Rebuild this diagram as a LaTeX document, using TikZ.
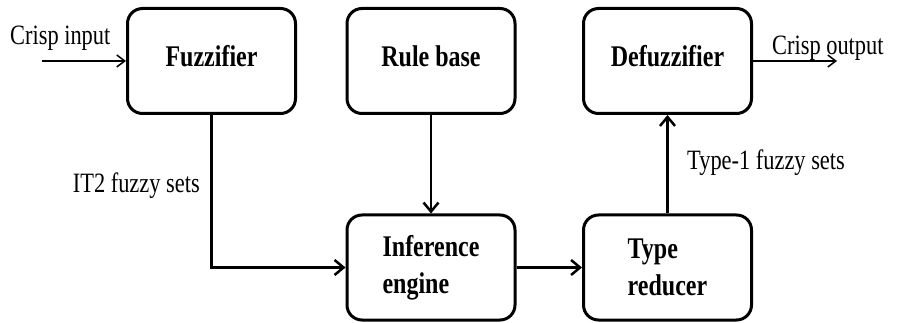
\documentclass[tikz,border=0pt]{standalone}
\usepackage{fontspec}
\setmainfont{Liberation Serif}[FakeStretch=0.8]
\usetikzlibrary{arrows.meta,positioning}

\begin{document}
\begin{tikzpicture}[x=1pt, y=-1pt,
    block/.style={draw, rounded corners=15pt, line width=3pt, minimum width=168pt, minimum height=105pt, font=\fontsize{30}{37}\selectfont\bfseries, align=left},
    oneline/.style={text height=20pt, text depth=8pt},
    flow/.style={-{Straight Barb[length=9pt,width=15pt]}, line width=2.5pt},
    io/.style={-{Straight Barb[length=8pt,width=12pt]}, line width=1.5pt},
    lbl/.style={font=\fontsize{28}{32}\selectfont, inner sep=0pt}
]

% Frame
\useasboundingbox (0,0) rectangle (897,323);

% Top row
\node[block, oneline] (fuzz) at (211.5,61) {Fuzzifier};
\node[block, oneline] (rules) at (431,61) {Rule base};
\node[block, oneline] (defuzz) at (667.5,61) {Defuzzifier};

% Bottom row
\node[block] (infer) at (431,267.5) {Inference\\engine};
\node[block] (reducer) at (667.5,267.5) {Type\\reducer};

% Crisp in / out
\coordinate (in) at (42,61);
\coordinate (out) at (837,61);
\draw[io] (in) -- (fuzz.west);
\draw[io] (defuzz.east) -- (out);
\node[lbl, anchor=base west] (inlbl) at (10,45) {Crisp input};
\node[lbl, anchor=base west] (outlbl) at (772,55) {Crisp output};

% Main flow
\draw[flow] (fuzz.south) |- (infer.west);
\draw[flow] (rules) -- (infer);
\draw[flow] (infer) -- (reducer);
\draw[flow] (reducer) -- (defuzz);

% Set labels
\node[lbl, anchor=base east] (it2) at (200,193) {IT2 fuzzy sets};
\node[lbl, anchor=base west] (type1) at (687,170) {Type-1 fuzzy sets};

\end{tikzpicture}
\end{document}
